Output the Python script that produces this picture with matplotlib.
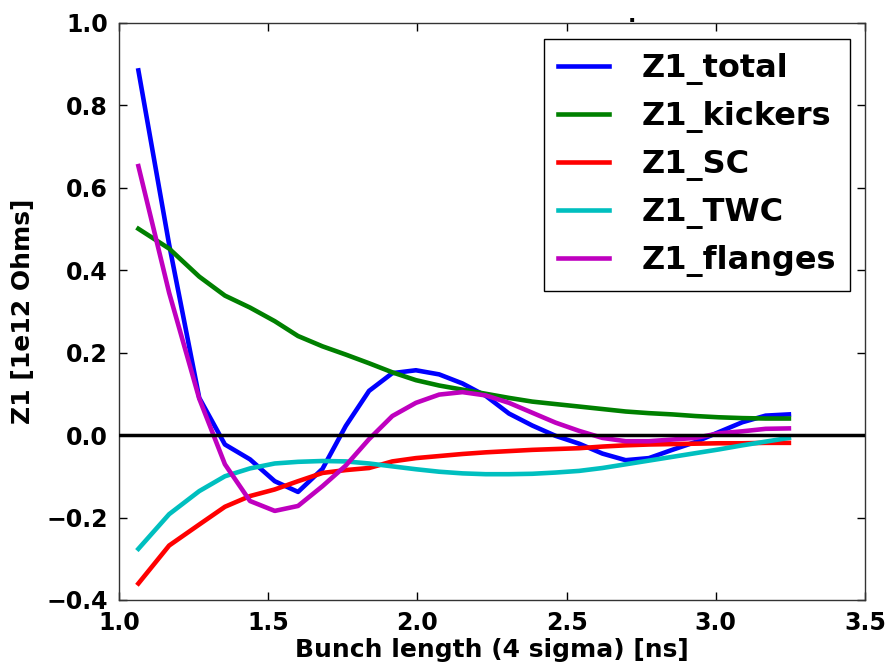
import numpy as np
import matplotlib
matplotlib.use('Agg')
import matplotlib.pyplot as plt

# bunch length (4 sigma) in ns
bunch_length = [1.065, 1.168, 1.269, 1.355, 1.439, 1.522, 1.600, 1.682,
                1.760, 1.838, 1.916, 1.995, 2.073, 2.151, 2.229, 2.307,
                2.385, 2.463, 2.542, 2.620, 2.698, 2.776, 2.854, 2.932,
                3.010, 3.089, 3.167, 3.245]

# Z1 contributions, 1e12 Ohms
z1_total = [0.884, 0.462, 0.090, -0.023, -0.059, -0.112, -0.138, -0.082,
            0.022, 0.107, 0.150, 0.157, 0.147, 0.125, 0.095, 0.052,
            0.023, -0.002, -0.021, -0.045, -0.061, -0.056, -0.036, -0.017,
            0.007, 0.031, 0.047, 0.050]
z1_kickers = [0.500, 0.452, 0.384, 0.338, 0.309, 0.276, 0.240, 0.215,
              0.195, 0.174, 0.152, 0.133, 0.120, 0.110, 0.100, 0.090,
              0.081, 0.075, 0.069, 0.063, 0.057, 0.053, 0.050, 0.046,
              0.043, 0.041, 0.040, 0.040]
z1_sc = [-0.360, -0.268, -0.217, -0.174, -0.148, -0.132, -0.112, -0.092,
         -0.085, -0.080, -0.064, -0.056, -0.051, -0.046, -0.042, -0.039,
         -0.036, -0.034, -0.032, -0.028, -0.025, -0.023, -0.022, -0.021,
         -0.020, -0.020, -0.019, -0.019]
z1_twc = [-0.276, -0.192, -0.136, -0.100, -0.081, -0.069, -0.065, -0.063,
          -0.064, -0.069, -0.076, -0.083, -0.089, -0.093, -0.095, -0.095,
          -0.094, -0.091, -0.087, -0.080, -0.071, -0.062, -0.053, -0.044,
          -0.035, -0.025, -0.016, -0.007]
z1_flanges = [0.652, 0.345, 0.088, -0.071, -0.160, -0.184, -0.172, -0.124,
              -0.074, -0.010, 0.046, 0.078, 0.098, 0.104, 0.096, 0.078,
              0.054, 0.030, 0.010, -0.007, -0.015, -0.015, -0.011, -0.007,
              0.004, 0.009, 0.015, 0.016]

labels = ['Z1_total', 'Z1_kickers', 'Z1_SC', 'Z1_TWC', 'Z1_flanges']
colours = ['#0000ff', '#008000', '#ff0000', '#00bfbf', '#bf00bf']

plt.rcParams['font.family'] = 'DejaVu Sans'
plt.rcParams['font.weight'] = 'bold'

fig = plt.figure(figsize=(8.9, 6.64), dpi=100)
ax = fig.add_axes([0.1337, 0.0964, 0.8382, 0.8696])

series = [z1_total, z1_kickers, z1_sc, z1_twc, z1_flanges]
for ys, lab, col in zip(series, labels, colours):
    ax.plot(bunch_length, ys, '-', color=col, lw=3.3, label=lab)
ax.axhline(0, color='k', lw=2.5, zorder=5)

ax.set_xlim(1.0, 3.5)
ax.set_ylim(-0.4, 1.0)
ax.set_xticks(np.arange(1.0, 3.51, 0.5))
ax.set_yticks(np.arange(-0.4, 1.01, 0.2))
ax.tick_params(direction='in', length=6, width=1, top=True, right=True,
               labelsize=17, pad=8)
for lbl in ax.get_xticklabels() + ax.get_yticklabels():
    lbl.set_fontweight('bold')
for sp in ax.spines.values():
    sp.set_linewidth(1.0)
    sp.set_color('#333333')

ax.set_xlabel('Bunch length (4 sigma) [ns]', fontsize=18, fontweight='bold',
              labelpad=2)
ax.set_ylabel('Z1 [1e12 Ohms]', fontsize=18, fontweight='bold', labelpad=8)

leg = ax.legend(loc='upper right', bbox_to_anchor=(0.98, 0.972),
                borderaxespad=0, fancybox=False, framealpha=1,
                prop={'size': 23, 'weight': 'bold'}, handlelength=1.6,
                handletextpad=1.0, labelspacing=0.5, borderpad=0.45)
leg.get_frame().set_edgecolor('k')
leg.get_frame().set_linewidth(1.0)

fig.text(632 / 890, 1 - 22 / 664, '.', fontsize=16, fontweight='bold',
         ha='center', va='baseline')

fig.savefig('out.png', dpi=100)
